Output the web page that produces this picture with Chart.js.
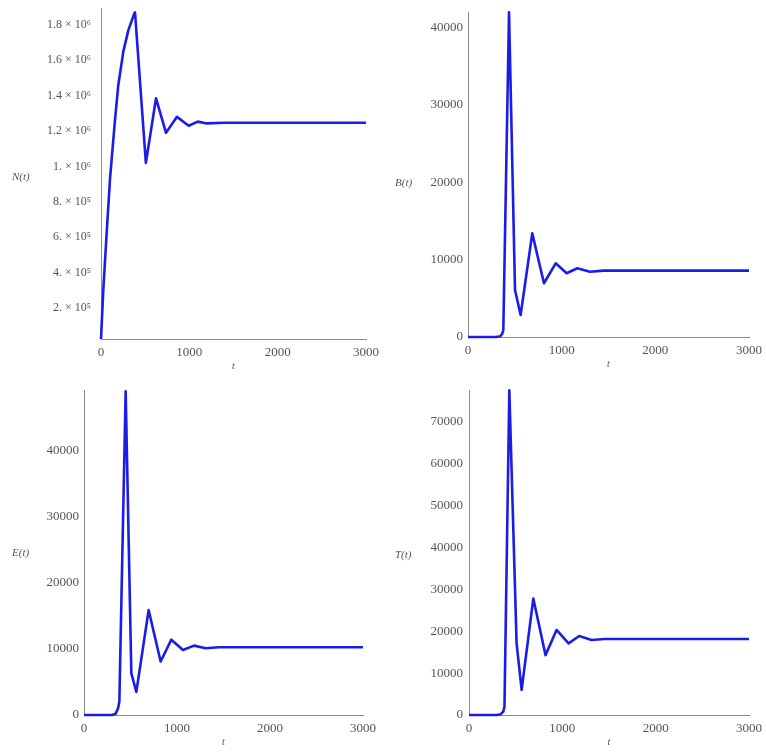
<!DOCTYPE html>
<html>
<head>
<meta charset="utf-8">
<script src="https://cdn.jsdelivr.net/npm/chart.js@4"></script>
<style>
  body { margin: 0; background: #fff; }
  #wrap { position: relative; width: 766px; height: 752px; }
  .panel { position: absolute; width: 383px; height: 376px; }
</style>
</head>
<body>
<div id="wrap">
  <div class="panel" style="left:0;top:0"><canvas id="cN"></canvas></div>
  <div class="panel" style="left:383px;top:0"><canvas id="cB"></canvas></div>
  <div class="panel" style="left:0;top:376px"><canvas id="cE"></canvas></div>
  <div class="panel" style="left:383px;top:376px"><canvas id="cT"></canvas></div>
</div>
<script>
// values
const nTimes = [0, 26, 64, 102, 158, 196, 253, 310, 377, 385, 508, 623, 736, 860, 993, 1095, 1200, 1400, 3000];
const nValues = [25000, 302000, 623000, 930000, 1260000, 1460000, 1650000, 1770000, 1865000, 1870000, 1020000, 1385000, 1190000, 1280000, 1230000, 1253000, 1243000, 1247000, 1247000];

const bTimes = [0, 300, 345, 365, 377, 438, 502, 562, 686, 811, 936, 1053, 1167, 1302, 1450, 3000];
const bValues = [0, 0, 100, 400, 900, 42000, 6080, 2850, 13400, 6950, 9530, 8240, 8890, 8450, 8580, 8580];

const eTimes = [0, 300, 340, 366, 380, 448, 509, 563, 695, 824, 939, 1064, 1183, 1308, 1450, 3000];
const eValues = [0, 0, 200, 1000, 2000, 49000, 6300, 3500, 15900, 8100, 11400, 9850, 10500, 10100, 10250, 10250];

const tTimes = [0, 296, 340, 367, 380, 432, 510, 564, 689, 820, 938, 1067, 1181, 1313, 1450, 3000];
const tValues = [0, 0, 200, 800, 2000, 77500, 17100, 6000, 27800, 14300, 20300, 17100, 18850, 17900, 18140, 18140];

const xTicks = [0, 1000, 2000, 3000];
const nYTicks = [200000, 400000, 600000, 800000, 1000000, 1200000, 1400000, 1600000, 1800000];
const nYTickLabels = ['2. × 10⁵', '4. × 10⁵', '6. × 10⁵', '8. × 10⁵', '1. × 10⁶', '1.2 × 10⁶', '1.4 × 10⁶', '1.6 × 10⁶', '1.8 × 10⁶'];
const bYTicks = [0, 10000, 20000, 30000, 40000];
const eYTicks = [0, 10000, 20000, 30000, 40000];
const tYTicks = [0, 10000, 20000, 30000, 40000, 50000, 60000, 70000];

const LINE = 'rgb(28,28,230)';
const AXIS = '#8a8a8a';
const TXT = '#555';
const FONT = 'Liberation Serif';

// horizontal y label and the "t" under the x axis, Mathematica style
const axisLabels = {
  id: 'axisLabels',
  afterDraw(chart, args, opts) {
    const { ctx, chartArea } = chart;
    ctx.save();
    ctx.fillStyle = TXT;
    ctx.font = 'italic 11px ' + FONT;
    ctx.textBaseline = 'middle';
    ctx.textAlign = 'left';
    ctx.fillText(opts.yLabel, 12, (chartArea.top + chartArea.bottom) / 2 + opts.yShift);
    ctx.textAlign = 'center';
    ctx.font = 'italic 10px ' + FONT;
    ctx.fillText('t', (chartArea.left + chartArea.right) / 2, chartArea.bottom + 27);
    ctx.restore();
  }
};

function makePanel(id, times, values, cfg) {
  const pts = times.map((t, i) => ({ x: t, y: values[i] }));
  new Chart(document.getElementById(id), {
    type: 'line',
    data: {
      datasets: [{
        data: pts,
        borderColor: LINE,
        borderWidth: 2.6,
        pointRadius: 0,
        tension: 0,
        borderJoinStyle: 'round',
        clip: false
      }]
    },
    plugins: [axisLabels],
    options: {
      responsive: true,
      maintainAspectRatio: false,
      animation: false,
      layout: { padding: { top: cfg.top, right: cfg.right, left: 0, bottom: 0 } },
      plugins: {
        legend: { display: false },
        tooltip: { enabled: false },
        axisLabels: { yLabel: cfg.yLabel, yShift: cfg.yShift }
      },
      scales: {
        x: {
          type: 'linear',
          min: 0,
          max: 3000,
          afterBuildTicks: s => { s.ticks = xTicks.map(v => ({ value: v })); },
          afterFit: s => { s.height = cfg.xHeight; s.paddingLeft = 0; s.paddingRight = 0; },
          grid: { display: false, drawTicks: false },
          border: { color: AXIS, width: 1 },
          ticks: {
            color: TXT,
            padding: 6,
            maxRotation: 0,
            font: { family: FONT, size: 13 },
            callback: v => String(v)
          }
        },
        y: {
          min: cfg.yMin,
          max: cfg.yMax,
          afterBuildTicks: s => { s.ticks = cfg.yTicks.map(v => ({ value: v })); },
          afterFit: s => { s.width = cfg.left; s.paddingTop = 0; s.paddingBottom = 0; },
          grid: { display: false, drawTicks: false },
          border: { color: AXIS, width: 1 },
          ticks: {
            color: TXT,
            padding: cfg.tickGap,
            font: { family: FONT, size: cfg.tickSize },
            callback: cfg.yFormat || (v => String(v))
          }
        }
      }
    }
  });
}

makePanel('cN', nTimes, nValues, {
  left: 101, right: 17, top: 8, xHeight: 37,
  yMin: 25000, yMax: 1895000, yTicks: nYTicks, tickSize: 12,
  yFormat: v => nYTickLabels[nYTicks.indexOf(v)],
  tickGap: 10, yLabel: 'N(t)', yShift: 4
});
makePanel('cB', bTimes, bValues, {
  left: 85, right: 17, top: 12, xHeight: 39,
  yMin: 0, yMax: 42040, yTicks: bYTicks, tickSize: 13,
  tickGap: 5, yLabel: 'B(t)', yShift: 9
});
makePanel('cE', eTimes, eValues, {
  left: 84, right: 20, top: 14, xHeight: 37,
  yMin: 0, yMax: 49200, yTicks: eYTicks, tickSize: 13,
  tickGap: 5, yLabel: 'E(t)', yShift: 1
});
makePanel('cT', tTimes, tValues, {
  left: 86, right: 17, top: 14, xHeight: 37,
  yMin: 0, yMax: 77600, yTicks: tYTicks, tickSize: 13,
  tickGap: 6, yLabel: 'T(t)', yShift: 3
});
</script>
</body>
</html>
